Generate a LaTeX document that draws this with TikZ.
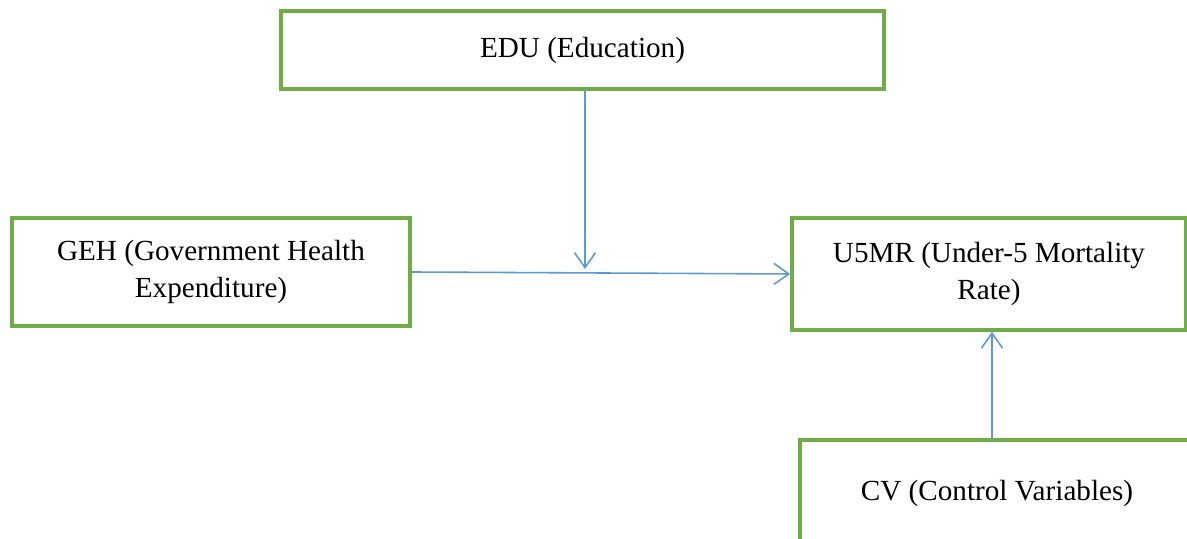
\documentclass[tikz,border=0pt]{standalone}
\usepackage{fontspec}
\setmainfont{Liberation Serif}
\usepackage{tikz}
\usetikzlibrary{arrows.meta,positioning,calc}
\usepackage{xcolor}
\definecolor{boxgreen}{RGB}{112,173,71}
\definecolor{linkblue}{RGB}{91,155,213}
\tikzset{
    varbox/.style={rectangle, draw=boxgreen, line width=2pt, fill=white, align=center, inner sep=0pt, font=\fontsize{16.6}{21.5}\selectfont},
    link/.style={draw=linkblue, line width=0.9pt, -{Straight Barb[length=3mm,width=4.2mm]}},
}

\begin{document}
\begin{tikzpicture}
    \useasboundingbox (0,0) rectangle (23.74,10.78);

    % Bildung
    \node[varbox, minimum width=12.06cm, minimum height=1.56cm] (edu) at (11.65,9.78) {EDU (Education)};

    % Gesundheitsausgaben
    \node[varbox, minimum width=7.96cm, minimum height=2.16cm] (geh) at (4.22,5.34) {GEH (Government Health\\Expenditure)};

    % Kindersterblichkeit
    \node[varbox, minimum width=7.88cm, minimum height=2.24cm] (u5mr) at (19.78,5.30) {U5MR (Under-5 Mortality\\Rate)};

    % Kontrollvariablen
    \node[varbox, minimum width=7.88cm, minimum height=2.12cm] (cv) at (19.94,0.92) {CV (Control Variables)};

    % Pfeile
    \coordinate (meet) at (11.70,5.40);
    \draw[link] (edu.south -| meet) -- (meet);
    \draw[link] (geh.east) -- (u5mr.west);
    \draw[link] ($(cv.north)+(-0.1,0)$) -- ($(cv.north |- u5mr.south)+(-0.1,0)$);
\end{tikzpicture}
\end{document}
